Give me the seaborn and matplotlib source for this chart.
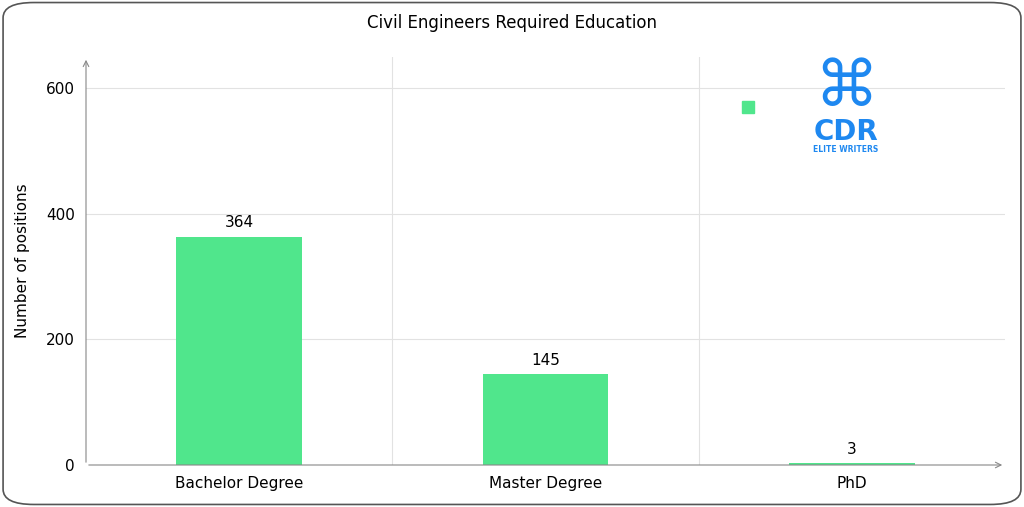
import matplotlib
matplotlib.use("Agg")
import matplotlib.pyplot as plt
import seaborn as sns
import pandas as pd
from matplotlib.patches import FancyBboxPatch

categories = ["Bachelor Degree", "Master Degree", "PhD"]
values = [364, 145, 3]
title = "Civil Engineers Required Education"
ylabel = "Number of positions"
yticks = [0, 200, 400, 600]

df = pd.DataFrame({"cat": categories, "val": values})
green = "#50E68C"

fig = plt.figure(figsize=(10.24, 5.07), dpi=100)
fig.patch.set_facecolor("white")
fig.patches.append(FancyBboxPatch((0.003, 0.005), 0.994, 0.99, boxstyle="round,pad=0,rounding_size=0.03",
                                  transform=fig.transFigure, fill=False, edgecolor="#555555", lw=1.2))
ax = fig.add_axes([86/1024, (507-465)/507, (1005-86)/1024, (465-57)/507])
sns.barplot(data=df, x="cat", y="val", color=green, width=0.41, ax=ax, saturation=1)
ax.set_xlim(-0.5, 2.5)
ax.set_ylim(0, 650)
ax.set_yticks(yticks)
for s in ax.spines.values():
    s.set_visible(False)
ax.grid(False)
for y in yticks[1:]:
    ax.axhline(y, color="#e2e2e2", lw=0.8, zorder=0)
for x in [0.5, 1.5]:
    ax.axvline(x, color="#e2e2e2", lw=0.8, zorder=0)
ax.annotate("", xy=(1.0, 0), xytext=(0, 0), xycoords="axes fraction",
            arrowprops=dict(arrowstyle="->", color="#888888", lw=0.8))
ax.annotate("", xy=(0, 1.0), xytext=(0, 0), xycoords="axes fraction",
            arrowprops=dict(arrowstyle="->", color="#888888", lw=0.8))
ax.tick_params(length=0, labelsize=11, pad=8)
ax.set_xlabel("")
ax.set_ylabel(ylabel, fontsize=11)
ax.yaxis.set_label_coords(-56/919, 0.5)
for i, v in enumerate(values):
    ax.text(i, v + 10, str(v), ha="center", va="bottom", fontsize=11)
fig.text(0.5, 0.955, title, ha="center", va="center", fontsize=12)
# legend-like marker
ax.plot([1.66], [570], marker="s", color=green, markersize=8, ls="")
# logo approximation
lx = 1.98
ax.text(lx, 600, "⌘", ha="center", va="center", fontsize=46, color="#1E88F0")
ax.text(lx, 530, "CDR", ha="center", va="center", fontsize=20, color="#1E88F0", fontweight="bold")
ax.text(lx, 502, "ELITE WRITERS", ha="center", va="center", fontsize=5.5, color="#1E88F0", fontweight="bold")
fig.savefig("out.png", dpi=100)
